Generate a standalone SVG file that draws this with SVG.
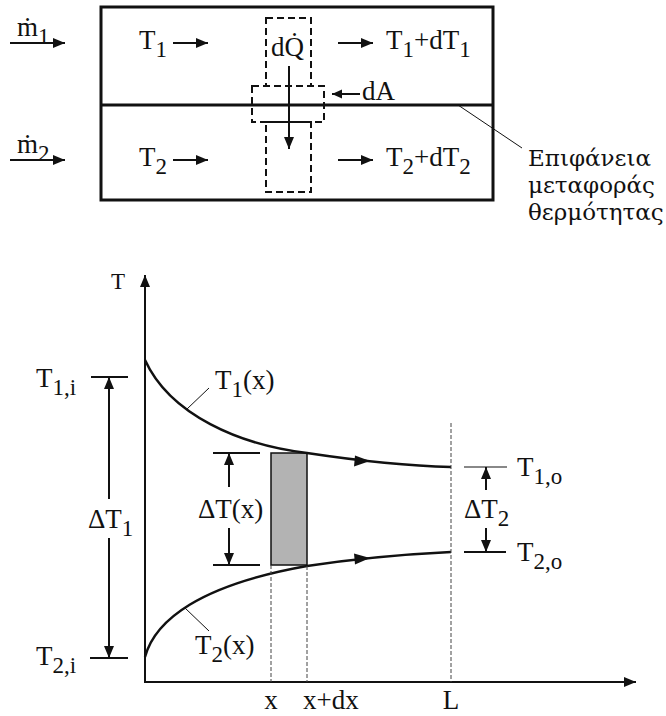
<svg xmlns="http://www.w3.org/2000/svg" width="666" height="716" viewBox="0 0 666 716">
<defs>
<style>
text{font-family:"Liberation Serif","Times New Roman",serif;font-size:27px;fill:#111}
.s{font-size:23px}
.gr{font-family:"DejaVu Serif","Liberation Serif",serif;font-size:23px}
.ln{stroke:#111;stroke-width:2;fill:none}
.thick{stroke:#111;stroke-width:3;fill:none}
.dash{stroke:#111;stroke-width:2;fill:none;stroke-dasharray:7 4}
.thin{stroke:#111;stroke-width:1;fill:none}
.vd{stroke:#444;stroke-width:1;fill:none;stroke-dasharray:4 2}
.curve{stroke:#111;stroke-width:2.5;fill:none}
</style>
<marker id="ah" markerUnits="userSpaceOnUse" markerWidth="13" markerHeight="11" refX="12" refY="5" orient="auto" viewBox="0 0 13 11">
<path d="M0,0 L12,5 L0,10 z" fill="#111"/>
</marker>
<marker id="ahs" markerUnits="userSpaceOnUse" markerWidth="11" markerHeight="10" refX="10" refY="4.5" orient="auto" viewBox="0 0 11 10">
<path d="M0,0 L10,4.5 L0,9 z" fill="#111"/>
</marker>
</defs>
<rect width="666" height="716" fill="#fff"/>

<!-- top exchanger -->
<g id="exchanger">
<rect x="101" y="7" width="392" height="193" class="thick"/>
<line x1="101" y1="105" x2="493" y2="105" class="thick"/>
</g>
<g id="control-volume">
<rect x="266" y="18" width="45" height="68" class="dash"/>
<rect x="252" y="86" width="72" height="36" class="dash"/>
<rect x="266" y="122" width="45" height="70" class="dash"/>
</g>
<g id="labels-top">
<text x="17" y="36">ṁ<tspan class="s" dy="8">1</tspan></text>
<text x="17" y="153">ṁ<tspan class="s" dy="8">2</tspan></text>
<text x="139" y="49">T<tspan class="s" dy="8">1</tspan></text>
<text x="139" y="166">T<tspan class="s" dy="8">2</tspan></text>
<text x="271" y="56">dQ̇</text>
<text x="386" y="49">T<tspan class="s" dy="8">1</tspan><tspan dy="-8">+dT</tspan><tspan class="s" dy="8">1</tspan></text>
<text x="386" y="166">T<tspan class="s" dy="8">2</tspan><tspan dy="-8">+dT</tspan><tspan class="s" dy="8">2</tspan></text>
<text x="362" y="100">dA</text>
<text class="gr" x="528" y="166">Επιφάνεια</text>
<text class="gr" x="528" y="193">μεταφοράς</text>
<text class="gr" x="528" y="220">θερμότητας</text>
</g>

<!-- graph -->
<g id="axes">
<line x1="145" y1="683" x2="145" y2="275" class="ln" marker-end="url(#ah)"/>
<line x1="144" y1="682" x2="636" y2="682" class="ln" marker-end="url(#ah)"/>
<text x="111" y="289" style="font-size:23px">T</text>
</g>
<g id="element">
<rect x="271" y="453" width="36" height="112" fill="#b3b3b3" stroke="#111" stroke-width="1.5"/>
</g>
<g id="curves">
<path d="M145,360 C170,415 240,445 307,453 C360,461 410,466 451,467" class="curve"/>
<path d="M145,657 C155,620 200,585 307,566 C360,558 410,554 451,552" class="curve"/>
<polygon points="370,461 355,455.5 354,466.5" fill="#111"/>
<polygon points="370,558 354,553.5 355,564.5" fill="#111"/>
</g>
<g id="connectors">
<line x1="10" y1="43" x2="65" y2="43" class="ln" marker-end="url(#ah)"/>
<line x1="10" y1="160" x2="65" y2="160" class="ln" marker-end="url(#ah)"/>
<line x1="173" y1="43" x2="208" y2="43" class="ln" marker-end="url(#ah)"/>
<line x1="173" y1="160" x2="208" y2="160" class="ln" marker-end="url(#ah)"/>
<line x1="338" y1="43" x2="373" y2="43" class="ln" marker-end="url(#ah)"/>
<line x1="338" y1="160" x2="373" y2="160" class="ln" marker-end="url(#ah)"/>
<line x1="289" y1="66" x2="289" y2="149" class="ln" marker-end="url(#ah)"/>
<line x1="360" y1="94" x2="332" y2="94" class="ln" marker-end="url(#ahs)"/>
<line x1="458" y1="105" x2="522" y2="148" class="thin"/>
<line x1="209" y1="388" x2="187" y2="409" class="thin"/>
<line x1="185" y1="608" x2="209" y2="631" class="thin"/>
<line x1="91" y1="377" x2="128" y2="377" class="ln"/>
<line x1="90" y1="658" x2="128" y2="658" class="ln"/>
<line x1="109" y1="499" x2="109" y2="377" class="ln" marker-end="url(#ah)"/>
<line x1="109" y1="538" x2="109" y2="658" class="ln" marker-end="url(#ah)"/>
<line x1="213" y1="453" x2="260" y2="453" class="ln"/>
<line x1="213" y1="565" x2="260" y2="565" class="ln"/>
<line x1="229" y1="487" x2="229" y2="453" class="ln" marker-end="url(#ah)"/>
<line x1="229" y1="528" x2="229" y2="565" class="ln" marker-end="url(#ah)"/>
<line x1="464" y1="467" x2="507" y2="467" stroke="#888" stroke-width="2"/>
<line x1="464" y1="552" x2="506" y2="552" class="ln"/>
<line x1="486" y1="490" x2="486" y2="467" class="ln" marker-end="url(#ah)"/>
<line x1="486" y1="528" x2="486" y2="552" class="ln" marker-end="url(#ah)"/>
<line x1="271" y1="565" x2="271" y2="682" class="vd"/>
<line x1="307" y1="566" x2="307" y2="682" class="vd"/>
<line x1="451" y1="423" x2="451" y2="682" class="vd"/>
</g>
<g id="labels-graph">
<text x="36" y="387">T<tspan class="s" dy="8">1,i</tspan></text>
<text x="36" y="665">T<tspan class="s" dy="8">2,i</tspan></text>
<text x="88" y="528">ΔT<tspan class="s" dy="8">1</tspan></text>
<text x="215" y="389">T<tspan class="s" dy="8">1</tspan><tspan dy="-8">(x)</tspan></text>
<text x="195" y="654">T<tspan class="s" dy="8">2</tspan><tspan dy="-8">(x)</tspan></text>
<text x="198" y="518">ΔT(x)</text>
<text x="517" y="476">T<tspan class="s" dy="8">1,o</tspan></text>
<text x="517" y="561">T<tspan class="s" dy="8">2,o</tspan></text>
<text x="464" y="518">ΔT<tspan class="s" dy="8">2</tspan></text>
<text x="271" y="709" text-anchor="middle">x</text>
<text x="303" y="709">x+dx</text>
<text x="451" y="709" text-anchor="middle">L</text>
</g>
</svg>
